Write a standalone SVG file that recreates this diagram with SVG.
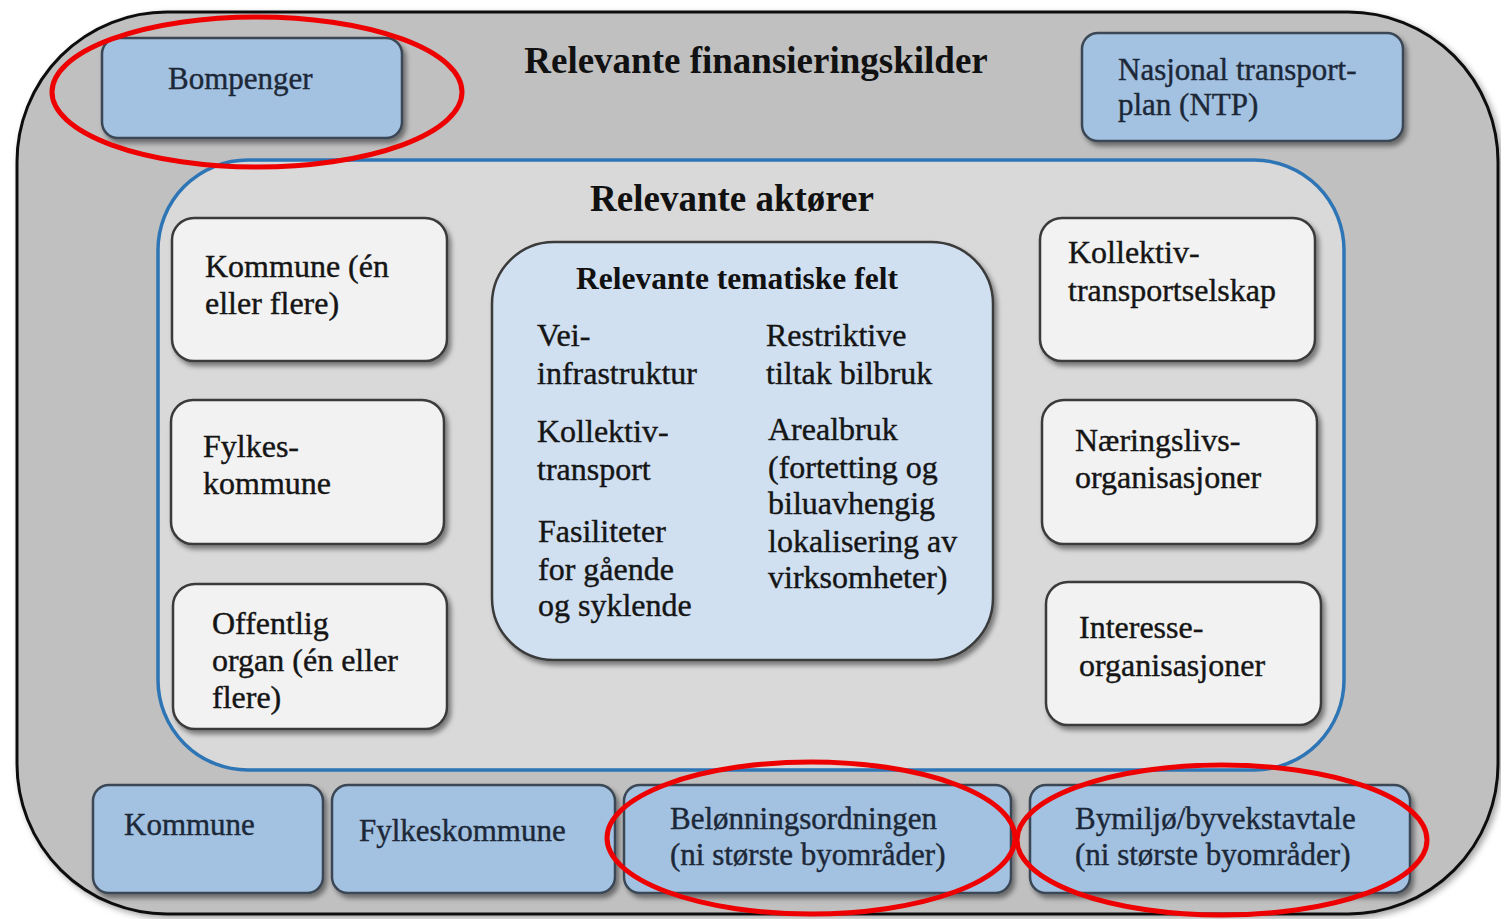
<svg xmlns="http://www.w3.org/2000/svg" width="1501" height="919" viewBox="0 0 1501 919" font-family="'Liberation Serif', 'DejaVu Serif', serif">
<defs>
<filter id="sh" x="-10%" y="-10%" width="125%" height="130%">
<feDropShadow dx="3" dy="4" stdDeviation="2.5" flood-color="#000" flood-opacity="0.45"/>
</filter>
<filter id="shs" x="-5%" y="-5%" width="110%" height="110%">
<feDropShadow dx="3" dy="3" stdDeviation="3" flood-color="#000" flood-opacity="0.35"/>
</filter>
</defs>
<style>
.t{font-size:32px;fill:#151515;stroke:#151515;stroke-width:0.4;}
.tb{font-size:31px;fill:#1c2838;stroke:#1c2838;stroke-width:0.4;}
.h{font-weight:bold;fill:#111;}
.blue{fill:#a3c1e0;stroke:#3a4654;stroke-width:2.5;filter:url(#sh);}
.white{fill:#f2f2f2;stroke:#3a3a3a;stroke-width:2.5;filter:url(#sh);}
.ring{fill:none;stroke:#ee0000;stroke-width:5;}
</style>
<rect width="1501" height="919" fill="#ffffff"/>
<g id="finansieringskilder">
<rect x="17" y="12" width="1481" height="902" rx="150" ry="150" fill="#c0c0c0" stroke="#111" stroke-width="3" filter="url(#shs)"/>
<text x="756" y="73" class="h" font-size="37" text-anchor="middle">Relevante finansieringskilder</text>
</g>
<g id="aktorer">
<rect x="158" y="160" width="1186" height="610" rx="90" ry="90" fill="#d9d9d9" stroke="#2e75b6" stroke-width="3.5"/>
<text x="732" y="211" class="h" font-size="37" text-anchor="middle">Relevante aktører</text>
</g>
<g id="bompenger">
<rect x="102" y="38" width="300" height="100" rx="16" class="blue"/>
<text x="168" y="89" class="tb">Bompenger</text>
</g>
<g id="ntp">
<rect x="1082" y="33" width="321" height="108" rx="16" class="blue"/>
<text x="1118" y="80" class="tb">Nasjonal transport-</text>
<text x="1118" y="115" class="tb">plan (NTP)</text>
</g>
<g id="kommune-aktor">
<rect x="172" y="218" width="275" height="143" rx="22" class="white"/>
<text x="205" y="277" class="t">Kommune (én</text>
<text x="205" y="314" class="t">eller flere)</text>
</g>
<g id="fylkeskommune-aktor">
<rect x="171" y="400" width="273" height="144" rx="22" class="white"/>
<text x="203" y="457" class="t">Fylkes-</text>
<text x="203" y="494" class="t">kommune</text>
</g>
<g id="offentlig-organ">
<rect x="173" y="584" width="274" height="145" rx="22" class="white"/>
<text x="212" y="634" class="t">Offentlig</text>
<text x="212" y="671" class="t">organ (én eller</text>
<text x="212" y="708" class="t">flere)</text>
</g>
<g id="kollektivtransportselskap">
<rect x="1040" y="218" width="275" height="143" rx="22" class="white"/>
<text x="1068" y="263" class="t">Kollektiv-</text>
<text x="1068" y="301" class="t">transportselskap</text>
</g>
<g id="naeringslivsorganisasjoner">
<rect x="1042" y="400" width="275" height="144" rx="22" class="white"/>
<text x="1075" y="451" class="t">Næringslivs-</text>
<text x="1075" y="488" class="t">organisasjoner</text>
</g>
<g id="interesseorganisasjoner">
<rect x="1046" y="582" width="275" height="143" rx="22" class="white"/>
<text x="1079" y="638" class="t">Interesse-</text>
<text x="1079" y="676" class="t">organisasjoner</text>
</g>
<g id="tematiske-felt">
<rect x="492" y="242" width="501" height="418" rx="62" fill="#d0e0f1" stroke="#3a3a3a" stroke-width="2.5" filter="url(#sh)"/>
<text x="737" y="289" class="h" font-size="31.5" text-anchor="middle">Relevante tematiske felt</text>
<text x="537" y="346" class="t">Vei-</text>
<text x="537" y="384" class="t">infrastruktur</text>
<text x="537" y="442" class="t">Kollektiv-</text>
<text x="537" y="480" class="t">transport</text>
<text x="538" y="542" class="t">Fasiliteter</text>
<text x="538" y="580" class="t">for gående</text>
<text x="538" y="616" class="t">og syklende</text>
<text x="766" y="346" class="t">Restriktive</text>
<text x="766" y="384" class="t">tiltak bilbruk</text>
<text x="768" y="440" class="t">Arealbruk</text>
<text x="768" y="478" class="t">(fortetting og</text>
<text x="768" y="514" class="t">biluavhengig</text>
<text x="768" y="552" class="t">lokalisering av</text>
<text x="768" y="588" class="t">virksomheter)</text>
</g>
<g id="kommune">
<rect x="93" y="785" width="230" height="108" rx="16" class="blue"/>
<text x="124" y="835" class="tb">Kommune</text>
</g>
<g id="fylkeskommune">
<rect x="332" y="785" width="283" height="108" rx="16" class="blue"/>
<text x="359" y="841" class="tb">Fylkeskommune</text>
</g>
<g id="belonningsordningen">
<rect x="624" y="785" width="387" height="108" rx="16" class="blue"/>
<text x="670" y="829" class="tb">Belønningsordningen</text>
<text x="670" y="865" class="tb">(ni største byområder)</text>
</g>
<g id="bymiljoavtale">
<rect x="1030" y="785" width="380" height="108" rx="16" class="blue"/>
<text x="1075" y="829" class="tb">Bymiljø/byvekstavtale</text>
<text x="1075" y="865" class="tb">(ni største byområder)</text>
</g>
<g id="connectors"></g>
<g id="highlights">
<ellipse cx="257" cy="92" rx="205" ry="75" class="ring"/>
<ellipse cx="811" cy="838" rx="204" ry="76" class="ring"/>
<ellipse cx="1222" cy="840" rx="205" ry="75" class="ring"/>
</g>
</svg>
